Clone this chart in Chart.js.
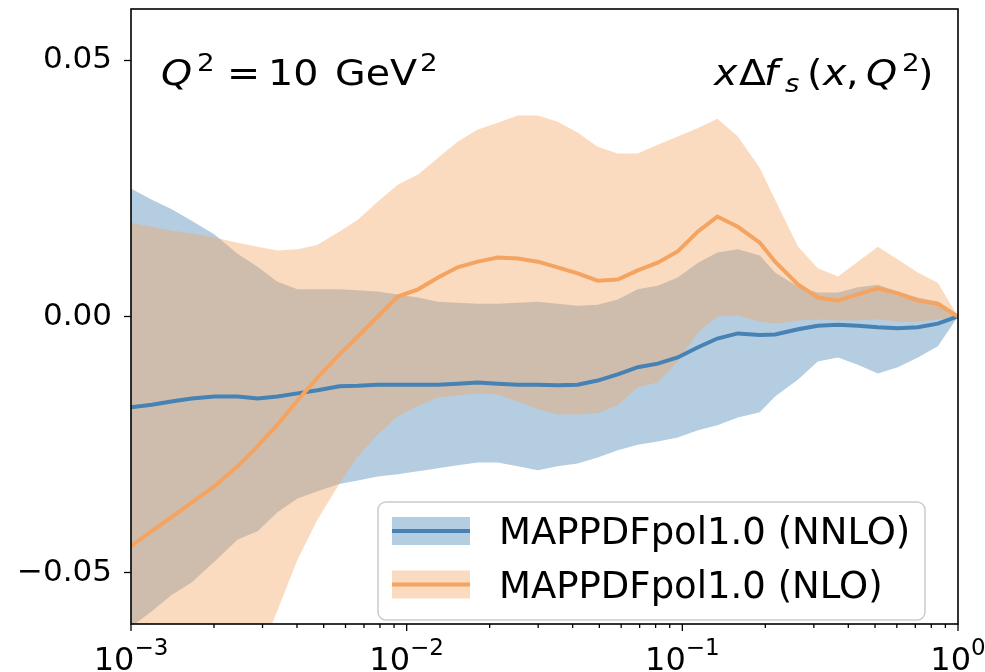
<!DOCTYPE html>
<html>
<head>
<meta charset="utf-8">
<script src="https://cdn.jsdelivr.net/npm/chart.js@4.4.1/dist/chart.umd.min.js"></script>
<style>
  html, body { margin:0; padding:0; background:#fff; }
  canvas { display:block; }
</style>
</head>
<body>
<canvas id="pdfChart" width="985" height="672"></canvas>
<script>
// x grid (log spaced) and bands
const xs = [0.001, 0.00119, 0.0014, 0.00166, 0.00201, 0.00244, 0.00288, 0.0034, 0.00402, 0.00475,
  0.00571, 0.00665, 0.00785, 0.00928, 0.011, 0.013, 0.0153, 0.0181, 0.0214, 0.0253,
  0.0299, 0.0353, 0.0417, 0.0493, 0.0583, 0.0689, 0.0814, 0.0962, 0.114, 0.134,
  0.159, 0.191, 0.217, 0.263, 0.31, 0.367, 0.433, 0.512, 0.605, 0.715, 0.845, 1.0]

const nnloMid = [-0.0177, -0.0172, -0.0166, -0.0160, -0.0156, -0.0156, -0.0160, -0.0156, -0.0150, -0.0144,
  -0.0136, -0.0135, -0.0133, -0.0133, -0.0133, -0.0133, -0.0131, -0.0129, -0.0131, -0.0133,
  -0.0133, -0.0134, -0.0133, -0.0125, -0.0113, -0.0099, -0.0092, -0.0080, -0.0060, -0.0043,
  -0.0033, -0.0036, -0.0035, -0.0025, -0.0018, -0.0016, -0.0018, -0.0021, -0.0023, -0.0021, -0.0014, 0]
const nnloUp = [0.0250, 0.0228, 0.0210, 0.0187, 0.0160, 0.0122, 0.0097, 0.0068, 0.0053, 0.0053,
  0.0053, 0.0051, 0.0049, 0.0043, 0.0037, 0.0029, 0.0027, 0.0025, 0.0025, 0.0027,
  0.0029, 0.0025, 0.0021, 0.0023, 0.0033, 0.0053, 0.0060, 0.0076, 0.0105, 0.0125,
  0.0131, 0.0119, 0.0086, 0.0058, 0.0047, 0.0047, 0.0057, 0.0062, 0.0049, 0.0037, 0.0029, 0]
const nnloLow = [-0.0606, -0.0575, -0.0544, -0.0519, -0.0478, -0.0435, -0.0419, -0.0382, -0.0355, -0.0341,
  -0.0327, -0.0320, -0.0312, -0.0308, -0.0302, -0.0296, -0.0290, -0.0285, -0.0285, -0.0292,
  -0.0300, -0.0292, -0.0287, -0.0275, -0.0261, -0.0250, -0.0244, -0.0236, -0.0222, -0.0212,
  -0.0197, -0.0187, -0.0156, -0.0123, -0.0088, -0.0080, -0.0094, -0.0111, -0.0099, -0.0080, -0.0058, 0]

const nloMid = [-0.0448, -0.0419, -0.0392, -0.0363, -0.0331, -0.0292, -0.0253, -0.0211, -0.0164, -0.0119,
  -0.0074, -0.0039, 0.0000, 0.0039, 0.0053, 0.0076, 0.0096, 0.0107, 0.0115, 0.0113,
  0.0107, 0.0096, 0.0084, 0.0070, 0.0072, 0.0090, 0.0105, 0.0127, 0.0166, 0.0195,
  0.0175, 0.0144, 0.0107, 0.0062, 0.0037, 0.0031, 0.0043, 0.0055, 0.0045, 0.0031, 0.0025, 0]
const nloUp = [0.0183, 0.0175, 0.0168, 0.0162, 0.0154, 0.0144, 0.0136, 0.0129, 0.0131, 0.0140,
  0.0166, 0.0189, 0.0224, 0.0257, 0.0277, 0.0310, 0.0341, 0.0365, 0.0378, 0.0392,
  0.0392, 0.0380, 0.0359, 0.0331, 0.0318, 0.0318, 0.0335, 0.0351, 0.0368, 0.0386,
  0.0351, 0.0290, 0.0228, 0.0136, 0.0094, 0.0078, 0.0107, 0.0136, 0.0111, 0.0086, 0.0066, 0]
const nloLow = [-0.125, -0.115, -0.105, -0.096, -0.086, -0.076, -0.067, -0.0573, -0.0474, -0.0396,
  -0.0326, -0.0273, -0.0230, -0.0195, -0.0175, -0.0158, -0.0154, -0.0150, -0.0152, -0.0166,
  -0.0181, -0.0191, -0.0191, -0.0189, -0.0173, -0.0138, -0.0129, -0.0088, -0.0031, 0.0000,
  0.0002, -0.0010, -0.0014, -0.0008, -0.0006, -0.0008, -0.0008, -0.0006, -0.0010, -0.0010, -0.0006, 0]

const seriesLabels = ['MAPPDFpol1.0 (NNLO)', 'MAPPDFpol1.0 (NLO)']
const xTickValues = [1e-3, 1e-2, 1e-1, 1]
const xTickExps = ['\u22123', '\u22122', '\u22121', '0']
const yTickValues = [-0.05, 0, 0.05]
const yTickLabels = ['\u22120.05', '0.00', '0.05']

const BLUE = 'rgb(70,130,180)', BLUE_FILL = 'rgba(70,130,180,0.4)'
const ORANGE = 'rgb(244,164,96)', ORANGE_FILL = 'rgba(244,164,96,0.4)'
const FONT = "'DejaVu Sans', sans-serif"

const pts = ys => xs.map((x, i) => ({x, y: ys[i]}))

function band(data, fill, color, order) {
  return {data: pts(data), fill, backgroundColor: color, borderColor: 'rgba(0,0,0,0)', borderWidth: 0, pointRadius: 0, order}
}

// draw a run of math-ish text pieces: [text, x, style], slightly widened like the source
function mathText(ctx, pieces, base, size) {
  for (const [t, x, st] of pieces) {
    let s = size, dy = 0, it = st === 'i' || st === 'si'
    if (st === 'sup') { s = size * 0.7; dy = -size * 0.4 }
    if (st === 'si') { s = size * 0.7; dy = size * 0.2 }
    ctx.font = (it ? 'italic ' : '') + s + 'px ' + FONT
    ctx.save()
    ctx.translate(x, base + dy)
    ctx.scale(1.1, 1)
    ctx.fillText(t, 0, 0)
    ctx.restore()
  }
}

const decor = {
  id: 'decor',
  afterDraw(chart) {
    const {ctx, chartArea: a} = chart
    const x = chart.scales.x
    ctx.save()
    ctx.fillStyle = '#000'
    ctx.textBaseline = 'alphabetic'
    ctx.textAlign = 'left'

    // annotations
    mathText(ctx, [['Q', 161, 'i'], ['2', 197, 'sup'], ['=', 227, 'n'], ['10', 268, 'n'], ['GeV', 335, 'n'], ['2', 420, 'sup']], 85, 36)
    mathText(ctx, [['x', 714, 'i'], ['\u0394', 739, 'n'], ['f', 764, 'i'], ['s', 785, 'si'], ['(', 807, 'n'], ['x', 823, 'i'],
      [',', 846, 'n'], ['Q', 866, 'i'], ['2', 902, 'sup'], [')', 918, 'n']], 85, 36)

    // legend
    const lx = 378, ly = 502, lw = 547, lh = 118, r = 8
    ctx.beginPath()
    ctx.roundRect(lx, ly, lw, lh, r)
    ctx.fillStyle = 'rgba(255,255,255,0.8)'
    ctx.fill()
    ctx.strokeStyle = '#cccccc'
    ctx.lineWidth = 1.5
    ctx.stroke()
    const rows = [[BLUE, BLUE_FILL, 531], [ORANGE, ORANGE_FILL, 584.5]]
    rows.forEach(([c, f, cy], i) => {
      ctx.fillStyle = f
      ctx.fillRect(392, cy - 14, 78, 28)
      ctx.strokeStyle = c
      ctx.lineWidth = 4
      ctx.beginPath(); ctx.moveTo(392, cy); ctx.lineTo(470, cy); ctx.stroke()
      ctx.fillStyle = '#000'
      ctx.font = '37px ' + FONT
      ctx.fillText(chart.data.datasets[4 + i].label, 499, cy + 13)
    })

    // frame
    ctx.strokeStyle = '#000'
    ctx.lineWidth = 1.6
    ctx.strokeRect(a.left, a.top, a.right - a.left, a.bottom - a.top)

    // x ticks (major + minor) and labels
    ctx.lineWidth = 1.3
    for (let d = -3; d < 0; d++) {
      for (let k = 1; k < 10; k++) {
        const px = x.getPixelForValue(k * Math.pow(10, d))
        ctx.beginPath(); ctx.moveTo(px, a.bottom); ctx.lineTo(px, a.bottom + (k === 1 ? 7 : 4)); ctx.stroke()
      }
    }
    const pEnd = x.getPixelForValue(1)
    ctx.beginPath(); ctx.moveTo(pEnd, a.bottom); ctx.lineTo(pEnd, a.bottom + 7); ctx.stroke()

    xTickValues.forEach((v, i) => {
      const px = x.getPixelForValue(v)
      ctx.font = '32px ' + FONT
      const w1 = ctx.measureText('10').width
      ctx.font = '23px ' + FONT
      const w2 = ctx.measureText(xTickExps[i]).width
      const x0 = px - (w1 + w2) / 2
      ctx.font = '32px ' + FONT
      ctx.fillText('10', x0, 670)
      ctx.font = '23px ' + FONT
      ctx.fillText(xTickExps[i], x0 + w1, 655)
    })
    ctx.restore()
  }
}

new Chart(document.getElementById('pdfChart'), {
  type: 'line',
  data: {
    datasets: [
      band(nnloUp, '+1', BLUE_FILL, 6),
      band(nnloLow, false, BLUE_FILL, 5),
      band(nloUp, '+1', ORANGE_FILL, 4),
      band(nloLow, false, ORANGE_FILL, 3),
      {label: seriesLabels[0], data: pts(nnloMid), borderColor: BLUE, borderWidth: 4, pointRadius: 0, fill: false, order: 2},
      {label: seriesLabels[1], data: pts(nloMid), borderColor: ORANGE, borderWidth: 4, pointRadius: 0, fill: false, order: 1}
    ]
  },
  options: {
    responsive: false,
    animation: false,
    devicePixelRatio: 1,
    layout: {padding: {top: 9, right: 27, left: 0, bottom: 0}},
    plugins: {legend: {display: false}, tooltip: {enabled: false}},
    scales: {
      x: {
        type: 'logarithmic', min: 0.001, max: 1,
        ticks: {display: false},
        grid: {display: false},
        border: {display: false},
        afterFit(s) { s.height = 48; s.paddingLeft = 0; s.paddingRight = 0 }
      },
      y: {
        type: 'linear', min: -0.06, max: 0.06,
        afterBuildTicks(s) { s.ticks = yTickValues.map(v => ({value: v})) },
        ticks: {
          callback: (v, i) => yTickLabels[i],
          font: {family: FONT, size: 31},
          color: '#000',
          padding: 12
        },
        grid: {display: true, drawOnChartArea: false, drawTicks: true, tickLength: 7, tickColor: '#000', tickWidth: 1.3},
        border: {display: false},
        afterFit(s) { s.width = 131; s.paddingTop = 0; s.paddingBottom = 0 }
      }
    }
  },
  plugins: [decor]
})
</script>
</body>
</html>
